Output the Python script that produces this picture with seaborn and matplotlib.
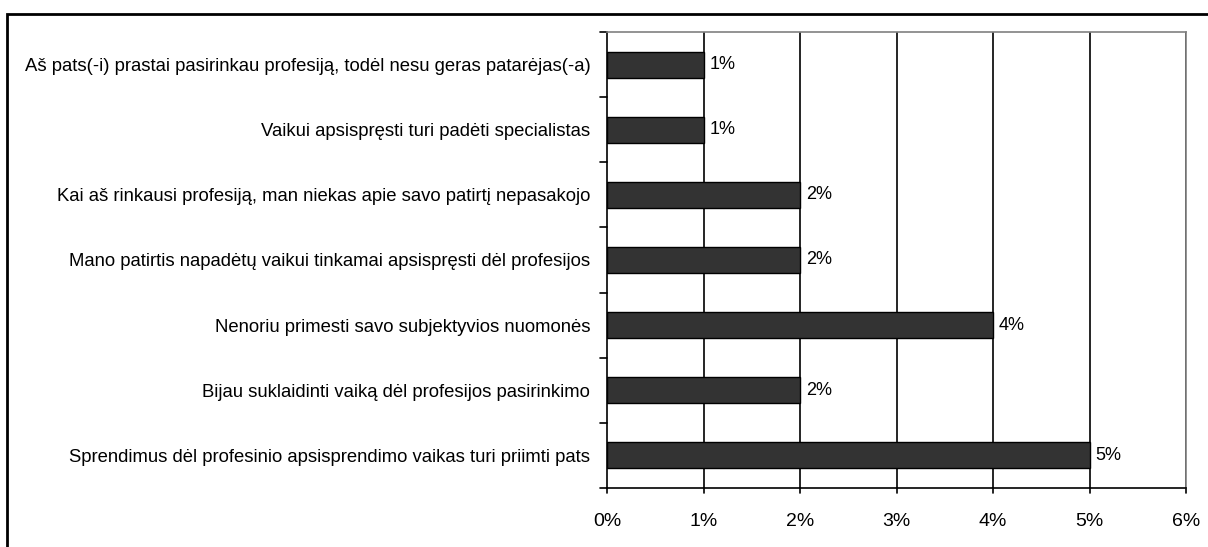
import matplotlib
matplotlib.use("Agg")
import matplotlib.pyplot as plt
import seaborn as sns
import pandas as pd
from matplotlib.patches import Rectangle

categories = [
    "Aš pats(-i) prastai pasirinkau profesiją, todėl nesu geras patarėjas(-a)",
    "Vaikui apsispręsti turi padėti specialistas",
    "Kai aš rinkausi profesiją, man niekas apie savo patirtį nepasakojo",
    "Mano patirtis napadėtų vaikui tinkamai apsispręsti dėl profesijos",
    "Nenoriu primesti savo subjektyvios nuomonės",
    "Bijau suklaidinti vaiką dėl profesijos pasirinkimo",
    "Sprendimus dėl profesinio apsisprendimo vaikas turi priimti pats",
]
values = [1, 1, 2, 2, 4, 2, 5]
x_ticks = [0, 1, 2, 3, 4, 5, 6]
x_tick_labels = ["0%", "1%", "2%", "3%", "4%", "5%", "6%"]
value_labels = ["1%", "1%", "2%", "2%", "4%", "2%", "5%"]

sns.set_theme(style="white")
plt.rcParams["font.family"] = ["Liberation Sans", "DejaVu Sans"]
plt.rcParams["text.color"] = "black"
plt.rcParams["xtick.color"] = "black"
plt.rcParams["ytick.color"] = "black"
plt.rcParams["axes.labelcolor"] = "black"

df = pd.DataFrame({"cat": categories, "val": values})

fig = plt.figure(figsize=(12.08, 5.47), dpi=100)
ax = fig.add_axes([607 / 1208, 1 - 488 / 547, (1186 - 607) / 1208, (488 - 32) / 547])

sns.barplot(data=df, x="val", y="cat", orient="h", color="#333333",
            edgecolor="black", linewidth=1.0, width=0.4, saturation=1, ax=ax)

ax.set_xlim(0, 6)
ax.set_ylim(len(categories) - 0.5, -0.5)
ax.set_xticks(x_ticks)
ax.set_xticklabels(x_tick_labels, fontsize=14)
ax.set_xlabel("")
ax.set_ylabel("")
ax.set_yticks(range(len(categories)))
ax.set_yticklabels(categories, fontsize=13.3)
ax.tick_params(axis="y", length=0, pad=12)
ax.tick_params(axis="x", length=0, pad=18)

# gridlines
for xv in x_ticks[1:]:
    ax.axvline(xv, color="black", linewidth=1.2, zorder=0)

# boundary ticks on y axis
for b in range(len(categories) + 1):
    yb = b - 0.5
    ax.plot([-0.07, 0], [yb, yb], color="black", linewidth=1.2, clip_on=False)
# x ticks going downward
for xv in x_ticks:
    ax.plot([xv, xv], [len(categories) - 0.5, len(categories) - 0.5 + 0.08],
            color="black", linewidth=1.2, clip_on=False)

for i, (v, lab) in enumerate(zip(values, value_labels)):
    ax.text(v + 0.06, i, lab, va="center", ha="left", fontsize=13)

for s in ["left", "bottom"]:
    ax.spines[s].set_color("black")
    ax.spines[s].set_linewidth(1.2)
for s in ["top", "right"]:
    ax.spines[s].set_color("#808080")
    ax.spines[s].set_linewidth(1.2)

# outer border
fig.patches.append(Rectangle((7 / 1208, -0.05), 1.2, 1 - 14 / 547 + 0.05,
                             transform=fig.transFigure, fill=False,
                             edgecolor="black", linewidth=2))

fig.savefig("out.png", dpi=100)
